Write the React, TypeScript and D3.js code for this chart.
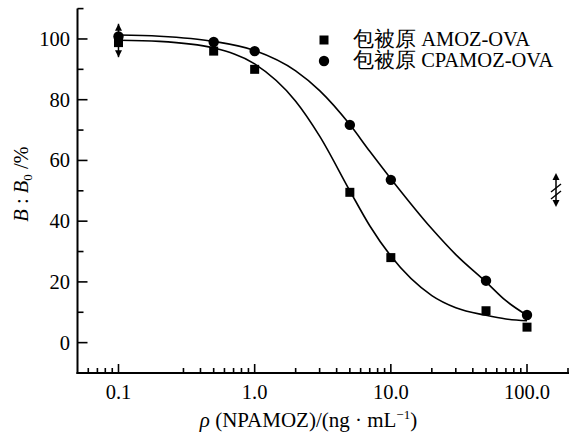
import * as d3 from 'd3'

// measured points, B/B0 in %
const doses = [0.1, 0.5, 1, 5, 10, 50, 100]
const amozValues = [98.8, 96.0, 90.0, 49.5, 28.0, 10.5, 5.1]
const cpamozValues = [100.8, 99.0, 96.0, 71.7, 53.6, 20.4, 9.1]

// fitted curves
const curveDoses = [0.1, 0.2, 0.5, 1, 2, 3, 5, 7, 10, 20, 30, 50, 70, 100]
const amozCurve = [99.6, 99.2, 97.0, 91.8, 79.5, 68.0, 50.0, 38.5, 28.5, 15.5, 11.5, 9.0, 7.8, 7.2]
const cpamozCurve = [101.3, 100.9, 99.2, 96.2, 89.5, 83.0, 71.8, 63.0, 54.0, 37.5, 29.0, 20.0, 13.8, 9.0]

// error range drawn at the first dose
const errDose = 0.1
const errRange = [94, 105]

const xMajor = [0.1, 1, 10, 100]
const xMajorLabels = ['0.1', '1.0', '10.0', '100.0']
const xMinor = [0.06, 0.07, 0.08, 0.09, 0.3, 0.4, 0.5, 0.6, 0.7, 0.8, 0.9,
  2, 3, 4, 5, 6, 7, 8, 9, 20, 30, 40, 50, 60, 70, 80, 90, 200]
const yMajor = [0, 20, 40, 60, 80, 100]
const yMinor = [10, 30, 50, 70, 90, 110]

const legendLabels = ['包被原 AMOZ-OVA', '包被原 CPAMOZ-OVA']

export default function App() {
  const width = 578, height = 436
  const font = '"Liberation Serif", "Times New Roman", serif'
  const fs = 20.5

  const x = d3.scaleLog().domain([0.05, 200]).range([77.5, 568])
  const y = d3.scaleLinear().domain([-10, 110]).range([373, 8.6])

  const line = d3.line<number>()
    .x((d, i) => x(curveDoses[i]))
    .y(d => y(d))
    .curve(d3.curveMonotoneX)

  const axisY = y(-10)
  const axisX = x(0.05)

  const arrow = (cx: number, tipY: number, dir: number) =>
    `M${cx},${tipY} L${cx - 3.5},${tipY + dir * 7} L${cx + 3.5},${tipY + dir * 7} Z`

  const symX = 556

  return (
    <svg width={width} height={height} style={{ position: 'absolute', left: 0, top: 0, background: '#fff' }}
      fontFamily={font}>
      {/* axes */}
      <line x1={axisX} x2={axisX} y1={y(110)} y2={axisY + 1} stroke="#000" strokeWidth={2} />
      <line x1={axisX - 1} x2={x(200) + 1} y1={axisY} y2={axisY} stroke="#000" strokeWidth={2} />

      {yMajor.map(v => (
        <g key={'ym' + v}>
          <line x1={axisX} x2={axisX + 10} y1={y(v)} y2={y(v)} stroke="#000" strokeWidth={1.6} />
          <text x={70} y={y(v)} dy="0.34em" textAnchor="end" fontSize={fs}>{v}</text>
        </g>
      ))}
      {yMinor.map(v => (
        <line key={'yn' + v} x1={axisX} x2={axisX + 6} y1={y(v)} y2={y(v)} stroke="#000" strokeWidth={1.6} />
      ))}

      {xMajor.map((v, i) => (
        <g key={'xm' + v}>
          <line x1={x(v)} x2={x(v)} y1={axisY} y2={axisY - 9} stroke="#000" strokeWidth={1.6} />
          <text x={x(v)} y={398.5} textAnchor="middle" fontSize={fs}>{xMajorLabels[i]}</text>
        </g>
      ))}
      {xMinor.map(v => (
        <line key={'xn' + v} x1={x(v)} x2={x(v)} y1={axisY} y2={axisY - 5} stroke="#000" strokeWidth={1.6} />
      ))}

      {/* axis titles */}
      <text transform={`translate(28,${184}) rotate(-90)`} textAnchor="middle" fontSize={fs}>
        <tspan fontStyle="italic">B</tspan>
        <tspan> : </tspan>
        <tspan fontStyle="italic">B</tspan>
        <tspan fontSize={13} dy={4}>0</tspan>
        <tspan dy={-4}> /%</tspan>
      </text>
      <text x={308.5} y={427} textAnchor="middle" fontSize={21}>
        <tspan fontStyle="italic">ρ</tspan>
        <tspan> (NPAMOZ)/(ng · mL</tspan>
        <tspan fontSize={13} dy={-8}>−1</tspan>
        <tspan dy={8}>)</tspan>
      </text>

      {/* fitted curves */}
      <path d={line(amozCurve) || ''} fill="none" stroke="#000" strokeWidth={1.6} />
      <path d={line(cpamozCurve) || ''} fill="none" stroke="#000" strokeWidth={1.6} />

      {/* error arrows */}
      <line x1={x(errDose)} x2={x(errDose)} y1={y(errRange[0])} y2={y(errRange[1])} stroke="#000" strokeWidth={1.5} />
      <path d={arrow(x(errDose), y(errRange[1]), 1)} fill="#000" />
      <path d={arrow(x(errDose), y(errRange[0]), -1)} fill="#000" />

      {/* points */}
      {doses.map((d, i) => (
        <rect key={'s' + d} x={x(d) - 4.5} y={y(amozValues[i]) - 4.5} width={9} height={9} fill="#000" />
      ))}
      {doses.map((d, i) => (
        <circle key={'c' + d} cx={x(d)} cy={y(cpamozValues[i])} r={5.2} fill="#000" />
      ))}

      {/* legend */}
      <rect x={319.5} y={35.5} width={9} height={9} fill="#000" />
      <text x={353} y={46} fontSize={fs}>{legendLabels[0]}</text>
      <circle cx={324} cy={61} r={5.2} fill="#000" />
      <text x={353} y={67} fontSize={fs}>{legendLabels[1]}</text>

      {/* break mark at right */}
      <line x1={symX} x2={symX} y1={175} y2={205} stroke="#000" strokeWidth={1.5} />
      <path d={arrow(symX, 173, 1)} fill="#000" />
      <path d={arrow(symX, 207, -1)} fill="#000" />
      <line x1={symX - 5} x2={symX + 5} y1={192} y2={184} stroke="#000" strokeWidth={1.5} />
      <line x1={symX - 5} x2={symX + 5} y1={199} y2={191} stroke="#000" strokeWidth={1.5} />
    </svg>
  )
}
